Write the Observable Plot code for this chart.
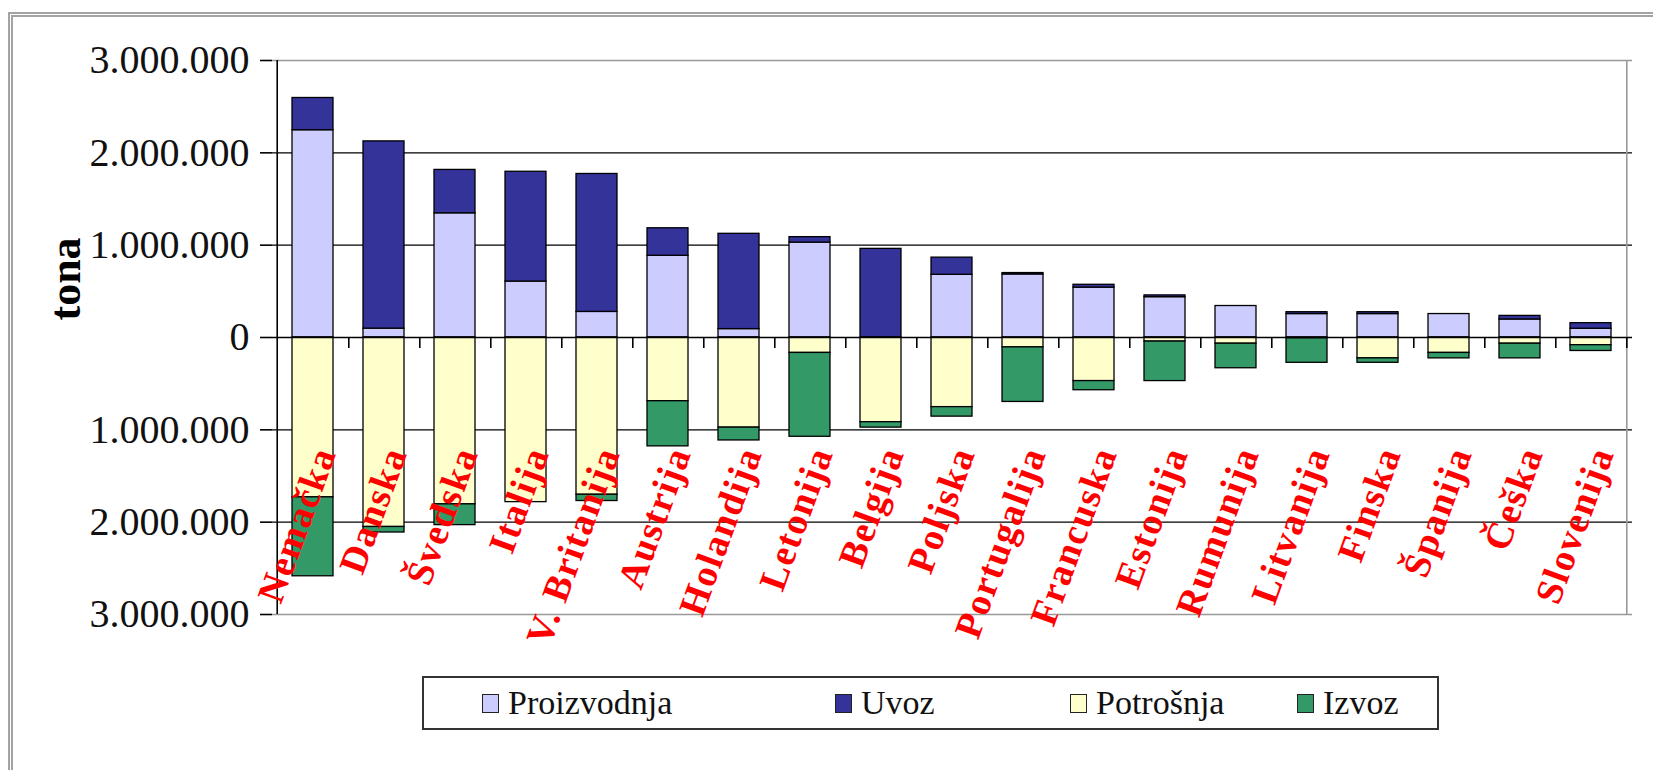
<!DOCTYPE html>
<html><head><meta charset="utf-8">
<script src="https://cdn.jsdelivr.net/npm/d3@7"></script>
<script src="https://cdn.jsdelivr.net/npm/@observablehq/plot@0.6"></script>
<style>
html,body{margin:0;padding:0;background:#fff;width:1653px;height:770px;overflow:hidden;}
#wrap{position:relative;width:1653px;height:770px;font-family:'Liberation Serif','Times New Roman',serif;}
#border{position:absolute;left:8px;top:12px;width:1700px;height:900px;border:5px double #a3a3a3;box-sizing:border-box;}
#chart{position:absolute;left:0;top:0;}
#legend{position:absolute;left:422px;top:676px;width:1017px;height:54px;border:2px solid #333;box-sizing:border-box;background:#fff;}
.item{position:absolute;top:0;height:50px;display:flex;align-items:center;font-family:'Liberation Serif','Times New Roman',serif;font-size:34px;color:#111;white-space:nowrap;}
.sw{width:15px;height:17px;border:1.5px solid #222;margin-right:9px;}
</style></head><body>
<div id="wrap"><div id="border"></div><div id="chart"></div><div id="legend"></div></div>
<script>
const countries = ["Nemačka","Danska","Švedska","Italija","V. Britanija","Austrija","Holandija","Letonija","Belgija","Poljska","Portugalija","Francuska","Estonija","Rumunija","Litvanija","Finska","Španija","Češka","Slovenija"];
const series = ["Proizvodnja","Uvoz","Potrošnja","Izvoz"];
const colors = ["#ccccff","#333399","#ffffcc","#339966"];
const proizvodnja = [2245000, 96000, 1345000, 606000, 277000, 885000, 91000, 1028000, 0, 679000, 683000, 540000, 437000, 341000, 254000, 254000, 254000, 195000, 95000];
const uvoz = [349000, 2028000, 470000, 1189000, 1494000, 298000, 1032000, 59000, 960000, 186000, 15000, 31000, 19000, 0, 20000, 20000, 0, 39000, 60000];
const potrosnja = [1731000, 2052000, 1807000, 1783000, 1703000, 690000, 976000, 167000, 917000, 754000, 107000, 472000, 44000, 67000, 8000, 226000, 167000, 67000, 83000];
const izvoz = [855000, 60000, 225000, 0, 68000, 489000, 139000, 908000, 59000, 103000, 591000, 99000, 428000, 266000, 266000, 48000, 59000, 159000, 63000];
const yTicks = [3000000, 2000000, 1000000, 0, -1000000, -2000000, -3000000];
const gridLines = [2000000, 1000000, -1000000, -2000000];
const frameLines = [3000000, -3000000];
const yLabel = "tona";

// tidy table: supply stacked upward, use stacked downward
const signs = [1, 1, -1, -1];
const seriesValues = [proizvodnja, uvoz, potrosnja, izvoz];
const rows = [];
countries.forEach((c, i) => {
  series.forEach((s, k) => rows.push({country: c, series: s, value: signs[k] * seriesValues[k][i]}));
});

const fmt = d => d3.format(",")(Math.abs(d)).replace(/,/g, ".");

const W = 1653, H = 676, mL = 272, mT = 60, mR = 21, mB = H - 614;
const step = (W - mL - mR) / countries.length;

const chart = Plot.plot({
  width: W, height: H,
  marginLeft: mL, marginTop: mT, marginRight: mR, marginBottom: mB,
  style: {fontFamily: "'Liberation Serif','Times New Roman',serif", background: "transparent", overflow: "visible", color: "#111"},
  x: {domain: countries, paddingInner: 0.42, paddingOuter: 0.21, axis: null},
  y: {domain: [-3000000, 3000000], axis: null},
  color: {domain: series, range: colors},
  marks: [
    Plot.ruleY(gridLines, {stroke: "#000", strokeWidth: 1.3}),
    Plot.ruleY(frameLines, {stroke: "#999", strokeWidth: 1.6}),
    Plot.ruleX([countries[countries.length - 1]], {x: d => d, dx: step / 2, stroke: "#999", strokeWidth: 1.6}),
    Plot.barY(rows, {x: "country", y: "value", fill: "series", stroke: "#000", strokeWidth: 1.3}),
    Plot.ruleY([0], {stroke: "#000", strokeWidth: 1.6}),
    Plot.ruleX(countries, {x: d => d, y1: 0, y2: 0, insetBottom: -11, dx: step / 2, stroke: "#000", strokeWidth: 1.6}),
    Plot.ruleX([countries[0]], {x: d => d, dx: -step / 2, stroke: "#000", strokeWidth: 1.6}),
    Plot.axisY({ticks: yTicks, label: null, tickSize: 12, tickPadding: 11, tickFormat: fmt, fontSize: 40, stroke: "#000", strokeWidth: 1.6}),
    Plot.text([yLabel], {frameAnchor: "left", rotate: -90, dx: -207, dy: -17, fontSize: 44, fontWeight: "bold", fill: "#000"}),
    Plot.text(countries, {x: d => d, frameAnchor: "middle", rotate: -70, textAnchor: "end", dx: 12, dy: 111, fill: "red", fontWeight: "bold", fontSize: 38})
  ]
});
document.getElementById("chart").appendChild(chart);
d3.select(chart).selectAll("g[fill='red'] text").style("letter-spacing", "1.5px");

// legend
const legendLeft = [58, 411, 646, 873];
const legend = d3.select("#legend");
series.forEach((s, k) => {
  const it = legend.append("div").attr("class", "item").style("left", legendLeft[k] + "px");
  it.append("div").attr("class", "sw").style("background", colors[k]);
  it.append("span").text(s);
});
</script>
</body></html>
